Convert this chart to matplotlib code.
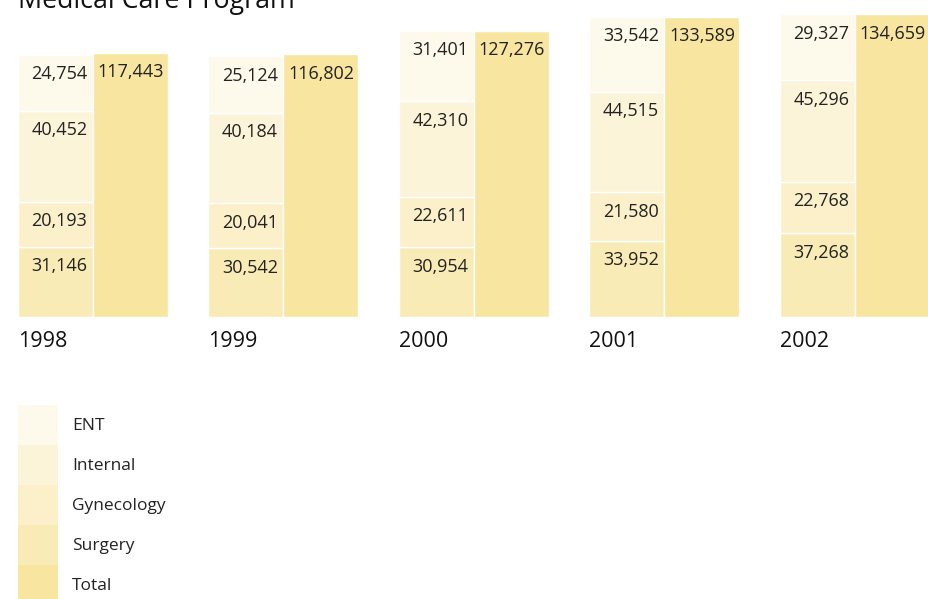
import numpy as np
import matplotlib.pyplot as plt
from matplotlib.patches import Patch

plt.rcParams['font.family'] = ['Open Sans', 'DejaVu Sans']

# data
years = ['1998', '1999', '2000', '2001', '2002']
surgery = [31146, 30542, 30954, 33952, 37268]
gynecology = [20193, 20041, 22611, 21580, 22768]
internal = [40452, 40184, 42310, 44515, 45296]
ent = [24754, 25124, 31401, 33542, 29327]
total = [117443, 116802, 127276, 133589, 134659]

categories = ['ENT', 'Internal', 'Gynecology', 'Surgery', 'Total']
colors = {'ENT': '#fefaeb', 'Internal': '#fcf4d8', 'Gynecology': '#fbf0c9',
          'Surgery': '#f9ebb5', 'Total': '#f8e6a0'}

fig = plt.figure(figsize=(9.29, 5.99), dpi=100)
W, H = 929, 599
ax = fig.add_axes([18 / W, 1 - 317 / H, 910 / W, 317 / H])

x = np.arange(len(years))
bw = 0.393
stack = [('Surgery', surgery), ('Gynecology', gynecology),
         ('Internal', internal), ('ENT', ent)]
bottom = np.zeros(len(years))
for name, vals in stack:
    vals = np.array(vals)
    ax.bar(x, vals, bw, bottom=bottom, align='edge', color=colors[name],
           edgecolor='white', linewidth=1)
    for xi, b, v in zip(x, bottom, vals):
        ax.annotate(f'{v:,}', (xi + bw, b + v), xytext=(-4, -7.5),
                    textcoords='offset points', ha='right', va='top',
                    fontsize=13, color='#222222')
    bottom = bottom + vals

ax.bar(x + bw, total, bw, align='edge', color=colors['Total'],
       edgecolor='white', linewidth=1)
for xi, v in zip(x, total):
    ax.annotate(f'{v:,}', (xi + 2 * bw, v), xytext=(-3, -7.5),
                textcoords='offset points', ha='right', va='top',
                fontsize=13, color='#222222', annotation_clip=False)

ax.set_xlim(0, 910 / 190.5)
ax.set_ylim(0, 141000)
ax.set_yticks([])
ax.set_xticks(x)
ax.set_xticklabels(years, ha='left', fontsize=15.5, color='#111111')
ax.tick_params(axis='x', length=0, pad=10)
for s in ax.spines.values():
    s.set_visible(False)

fig.text(18 / W, 1 - 8 / H, 'Medical Care Program', fontsize=19.3,
         va='baseline', ha='left', color='#111111')

handles = [Patch(facecolor=colors[c], edgecolor='none', label=c) for c in categories]
fs = 12.5
px = fs * 100 / 72
hh = (40 / px - 0.245) / 0.65
fig.legend(handles=handles, loc='upper left', bbox_to_anchor=(18 / W, 1 - 405 / H),
           frameon=False, borderpad=0, borderaxespad=0, labelspacing=0,
           handlelength=40 / px, handleheight=hh, handletextpad=14 / px,
           fontsize=fs, labelcolor='#222222')

fig.savefig('out.png', dpi=100)
